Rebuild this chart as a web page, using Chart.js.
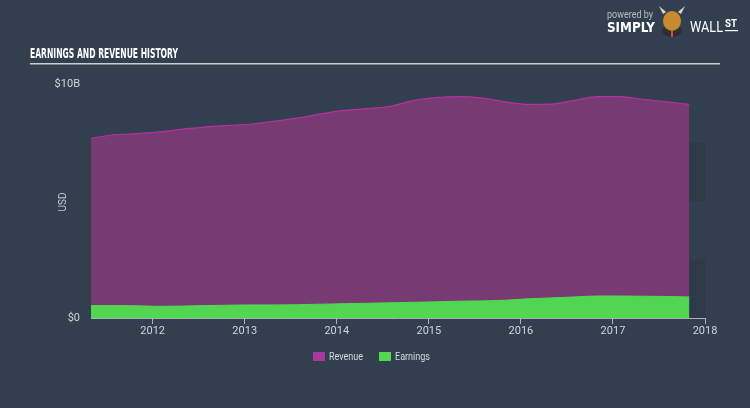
<!DOCTYPE html>
<html>
<head>
<meta charset="utf-8">
<script src="https://cdn.jsdelivr.net/npm/chart.js@4/dist/chart.umd.min.js"></script>
<style>
  html, body { margin: 0; padding: 0; background: #323f4e; }
  #wrap { position: relative; width: 750px; height: 408px; }
  canvas { display: block; }
</style>
</head>
<body>
<div id="wrap"><canvas id="c" width="750" height="408"></canvas></div>
<script>
// ---- data (years as decimals) ----
const dates = [2011.33, 2011.58, 2011.83, 2012.08, 2012.33, 2012.58, 2012.83, 2013.08, 2013.33,
  2013.58, 2013.83, 2014.08, 2014.33, 2014.58, 2014.83, 2015.08, 2015.33, 2015.58, 2015.83,
  2016.08, 2016.33, 2016.58, 2016.83, 2017.08, 2017.33, 2017.58, 2017.83];
const revenue = [7.68, 7.83, 7.88, 7.95, 8.07, 8.17, 8.23, 8.29, 8.41, 8.55, 8.72, 8.87, 8.95,
  9.05, 9.29, 9.42, 9.46, 9.40, 9.24, 9.13, 9.14, 9.30, 9.46, 9.46, 9.34, 9.24, 9.13];
const earnings = [0.53, 0.53, 0.52, 0.50, 0.51, 0.53, 0.55, 0.56, 0.56, 0.57, 0.59, 0.61, 0.63,
  0.65, 0.67, 0.69, 0.72, 0.73, 0.76, 0.82, 0.86, 0.90, 0.94, 0.94, 0.93, 0.92, 0.90];
const xTicks = [2012, 2013, 2014, 2015, 2016, 2017, 2018];
const yTicks = [0, 10];
const yTickLabels = ['$0', '$10B'];
const seriesNames = ['Revenue', 'Earnings'];
const title = 'EARNINGS AND REVENUE HISTORY';
const yTitle = 'USD';

const revPts = dates.map((d, i) => ({ x: d, y: revenue[i] }));
const earnPts = dates.map((d, i) => ({ x: d, y: earnings[i] }));

const FONT = 'Roboto, "Liberation Sans", sans-serif';

function fitText(ctx, text, x, y, width) {
  const w = ctx.measureText(text).width;
  ctx.save();
  ctx.translate(x, y);
  ctx.scale(width / w, 1);
  ctx.fillText(text, 0, 0);
  ctx.restore();
}

const decor = {
  id: 'decor',
  beforeDatasetsDraw(chart) {
    const { ctx, chartArea: a, scales: { y } } = chart;
    ctx.save();
    ctx.fillStyle = 'rgba(0,0,0,0.07)';
    [[0, 2.5], [5, 7.5]].forEach(([lo, hi]) => {
      const t = y.getPixelForValue(hi), b = y.getPixelForValue(lo);
      ctx.fillRect(a.left, t, a.right - a.left, b - t);
    });
    ctx.restore();
  },
  afterDraw(chart) {
    const { ctx } = chart;
    ctx.save();
    // title
    ctx.fillStyle = '#ffffff';
    ctx.font = 'bold 14.5px "DejaVu Sans", sans-serif';
    ctx.textBaseline = 'alphabetic';
    ctx.textAlign = 'left';
    fitText(ctx, title, 30, 58, 148);
    ctx.fillStyle = '#c9ced6';
    ctx.fillRect(30, 63, 690, 1.5);
    // y axis title
    ctx.save();
    ctx.translate(66, 202);
    ctx.rotate(-Math.PI / 2);
    ctx.fillStyle = '#c4c9d1';
    ctx.font = '10px ' + FONT;
    ctx.textAlign = 'center';
    ctx.fillText(yTitle, 0, 0);
    ctx.restore();
    // legend
    const colors = ['#a8399c', '#52d852'];
    const lx = [313, 379];
    const lw = [34, 35];
    ctx.font = '11px ' + FONT;
    ctx.textBaseline = 'middle';
    seriesNames.forEach((n, i) => {
      ctx.fillStyle = colors[i];
      ctx.fillRect(lx[i], 352, 12, 9);
      ctx.fillStyle = '#d5d9df';
      fitText(ctx, n, lx[i] + 16, 357, lw[i]);
    });
    // logo
    ctx.textBaseline = 'alphabetic';
    ctx.fillStyle = '#b7bec8';
    ctx.font = '10px ' + FONT;
    fitText(ctx, 'powered by', 607, 18, 46);
    ctx.fillStyle = '#ffffff';
    ctx.font = 'bold 14px "DejaVu Sans", sans-serif';
    fitText(ctx, 'SIMPLY', 607, 32, 48);
    // bull head
    ctx.fillStyle = '#2a2f38';
    ctx.beginPath();
    ctx.ellipse(672, 31, 10, 6, 0, 0, Math.PI * 2);
    ctx.fill();
    ctx.fillStyle = '#c98a2e';
    ctx.beginPath();
    ctx.ellipse(672, 21, 9, 10, 0, 0, Math.PI * 2);
    ctx.fill();
    ctx.fillStyle = '#e0d6c0';
    ctx.beginPath(); ctx.moveTo(663, 14); ctx.lineTo(659, 6); ctx.lineTo(666, 12); ctx.fill();
    ctx.beginPath(); ctx.moveTo(681, 14); ctx.lineTo(685, 6); ctx.lineTo(678, 12); ctx.fill();
    ctx.fillStyle = '#d34a2a';
    ctx.fillRect(671, 31, 2, 6);
    ctx.fillStyle = '#ffffff';
    ctx.font = '14px ' + FONT;
    fitText(ctx, 'WALL', 690, 32, 33);
    ctx.font = 'bold 10px ' + FONT;
    fitText(ctx, 'ST', 725, 27, 12);
    ctx.fillRect(725, 30, 13, 1.2);
    ctx.restore();
  }
};

new Chart(document.getElementById('c'), {
  type: 'line',
  data: {
    datasets: [
      {
        label: seriesNames[0], data: revPts, order: 2,
        borderColor: '#b3329f', borderWidth: 1.2, backgroundColor: '#783a72',
        fill: 'origin', pointRadius: 0, cubicInterpolationMode: 'monotone'
      },
      {
        label: seriesNames[1], data: earnPts, order: 1,
        borderColor: '#52d852', borderWidth: 1, backgroundColor: '#52d652',
        fill: 'origin', pointRadius: 0, cubicInterpolationMode: 'monotone'
      }
    ]
  },
  options: {
    responsive: false,
    animation: false,
    events: [],
    layout: { padding: { left: 0, top: 84, right: 45, bottom: 60 } },
    plugins: { legend: { display: false }, tooltip: { enabled: false } },
    scales: {
      x: {
        type: 'linear', min: dates[0], max: 2018,
        afterBuildTicks(s) { s.ticks = xTicks.map(v => ({ value: v })); },
        afterFit(s) { s.height = 30; },
        grid: { drawOnChartArea: false, drawTicks: true, tickLength: 6, color: '#aab2bd' },
        border: { display: true, color: '#aab2bd', width: 1 },
        ticks: { color: '#d0d4da', font: { size: 11, family: FONT }, padding: 1,
          callback: v => String(v), maxRotation: 0 }
      },
      y: {
        min: 0, max: 10,
        afterBuildTicks(s) { s.ticks = yTicks.map(v => ({ value: v })); },
        afterFit(s) { s.width = 91; },
        grid: { display: false },
        border: { display: false },
        ticks: { color: '#d0d4da', font: { size: 11, family: FONT }, padding: 3,
          callback: (v) => yTickLabels[yTicks.indexOf(v)] ?? '' }
      }
    }
  },
  plugins: [decor]
});
</script>
</body>
</html>
